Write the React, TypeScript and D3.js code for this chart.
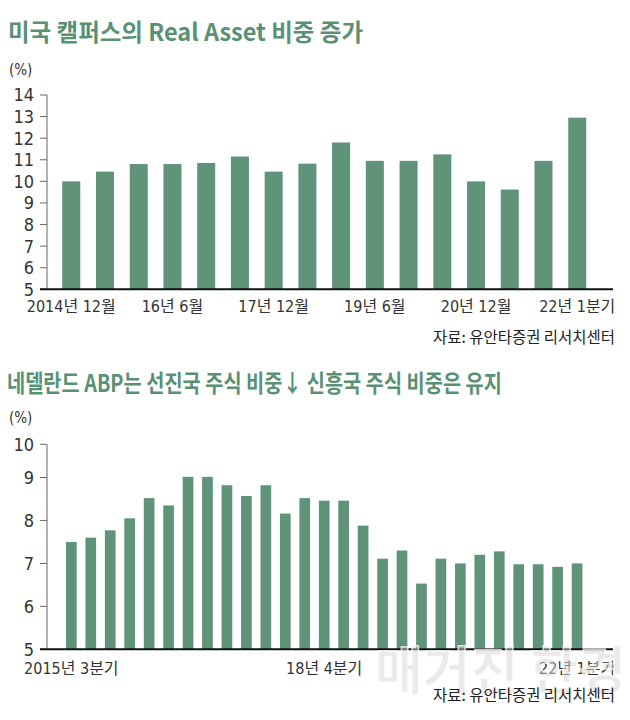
import React from 'react';
import * as d3 from 'd3';

const title1 = '미국 캘퍼스의 Real Asset 비중 증가';
const title2 = '네델란드 ABP는 선진국 주식 비중↓  신흥국 주식 비중은 유지';
const unitLabel = '(%)';
const sourceLabel = '자료: 유안타증권 리서치센터';
const watermark = '매거진 한경';

const categories1 = ['2014년 12월', '15년 6월', '15년 12월', '16년 6월', '16년 12월', '17년 6월', '17년 12월', '18년 6월', '18년 12월', '19년 6월', '19년 12월', '20년 6월', '20년 12월', '21년 6월', '21년 12월', '22년 1분기'];
const values1 = [10.0, 10.45, 10.8, 10.8, 10.85, 11.15, 10.45, 10.82, 11.8, 10.95, 10.95, 11.25, 10.0, 9.62, 10.95, 12.95];
const shownTicks1 = ['2014년 12월', '16년 6월', '17년 12월', '19년 6월', '20년 12월', '22년 1분기'];
const yTicks1 = [5, 6, 7, 8, 9, 10, 11, 12, 13, 14];

const categories2 = ['2015년 3분기', '15년 4분기', '16년 1분기', '16년 2분기', '16년 3분기', '16년 4분기', '17년 1분기', '17년 2분기', '17년 3분기', '17년 4분기', '18년 1분기', '18년 2분기', '18년 3분기', '18년 4분기', '19년 1분기', '19년 2분기', '19년 3분기', '19년 4분기', '20년 1분기', '20년 2분기', '20년 3분기', '20년 4분기', '21년 1분기', '21년 2분기', '21년 3분기', '21년 4분기', '22년 1분기'];
const values2 = [7.5, 7.6, 7.77, 8.05, 8.52, 8.35, 9.02, 9.02, 8.82, 8.57, 8.82, 8.16, 8.52, 8.46, 8.46, 7.88, 7.11, 7.3, 6.53, 7.11, 7.0, 7.2, 7.28, 6.98, 6.98, 6.92, 7.0];
const shownTicks2 = ['2015년 3분기', '18년 4분기', '22년 1분기'];
const yTicks2 = [5, 6, 7, 8, 9, 10];

const GREEN = '#5f937a';
const TITLE_GREEN = '#5a9174';
const NUM_FONT = '"Liberation Sans Narrow", "DejaVu Sans Condensed", "Noto Sans CJK KR", sans-serif';
const KR_FONT = '"Noto Sans CJK KR", "Noto Sans", sans-serif';

function BarPanel({ categories, values, shownTicks, yTicks, x, y, axisX, baseStart, baseEnd, labelY }) {
  const y0 = y(yTicks[0]);
  const yTop = y(yTicks[yTicks.length - 1]);
  return (
    <g>
      <line x1={axisX} x2={axisX} y1={y0} y2={yTop} stroke="#666" strokeWidth={1} />
      {yTicks.map((t) => (
        <g key={t}>
          <line x1={axisX - 7} x2={axisX} y1={y(t)} y2={y(t)} stroke="#666" strokeWidth={1} />
          <text x={axisX - 13} y={y(t)} dy="0.36em" textAnchor="end" fontFamily={NUM_FONT} fontSize={18} fill="#333">{t}</text>
        </g>
      ))}
      {categories.map((c, i) => (
        <rect key={c} x={x(c)} y={y(values[i])} width={x.bandwidth()} height={y0 - y(values[i])} fill={GREEN} />
      ))}
      <line x1={baseStart} x2={baseEnd} y1={y0} y2={y0} stroke="#111" strokeWidth={2} />
      {shownTicks.map((c) => (
        <text key={c} x={x(c) + x.bandwidth() / 2} y={labelY} textAnchor="middle" fontFamily={NUM_FONT} fontSize={16} fill="#333">{c}</text>
      ))}
    </g>
  );
}

export default function App() {
  const x1 = d3.scaleBand().domain(categories1).range([54.4, 594.1]).paddingInner(0.466).paddingOuter(0.233);
  const y1 = d3.scaleLinear().domain([5, 14]).range([289.3, 95]);
  const x2 = d3.scaleBand().domain(categories2).range([61.6, 586.8]).paddingInner(0.45).paddingOuter(0.225);
  const y2 = d3.scaleLinear().domain([5, 9, 10]).range([649.3, 477.5, 444.3]);

  return (
    <svg width={630} height={720} style={{ position: 'absolute', left: 0, top: 0, background: '#fff' }}>
      <rect width={630} height={720} fill="#fff" />
      <text x={8} y={41} fontFamily={KR_FONT} fontWeight={700} fontSize={24} fill={TITLE_GREEN} textLength={355} lengthAdjust="spacingAndGlyphs">{title1}</text>
      <text x={9} y={75} fontFamily={NUM_FONT} fontSize={15} fill="#333">{unitLabel}</text>
      <BarPanel categories={categories1} values={values1} shownTicks={shownTicks1} yTicks={yTicks1} x={x1} y={y1} axisX={47} baseStart={40} baseEnd={613} labelY={312} />
      <text x={615} y={343} textAnchor="end" fontFamily={KR_FONT} fontSize={15.5} fill="#222" textLength={182} lengthAdjust="spacingAndGlyphs">{sourceLabel}</text>

      <text x={7} y={392} fontFamily={KR_FONT} fontWeight={700} fontSize={24} fill={TITLE_GREEN} textLength={495} lengthAdjust="spacingAndGlyphs">{title2}</text>
      <text x={9} y={423} fontFamily={NUM_FONT} fontSize={15} fill="#333">{unitLabel}</text>
      <BarPanel categories={categories2} values={values2} shownTicks={shownTicks2} yTicks={yTicks2} x={x2} y={y2} axisX={47} baseStart={40} baseEnd={613} labelY={674} />
      <text x={626} y={690} textAnchor="end" fontFamily={KR_FONT} fontWeight={700} fontSize={52} fill="#d6d6d6" fillOpacity={0.5} stroke="#fff" strokeWidth={1.5} strokeOpacity={0.7}>{watermark}</text>
      <text x={615} y={701} textAnchor="end" fontFamily={KR_FONT} fontSize={15.5} fill="#222" textLength={182} lengthAdjust="spacingAndGlyphs">{sourceLabel}</text>
    </svg>
  );
}
